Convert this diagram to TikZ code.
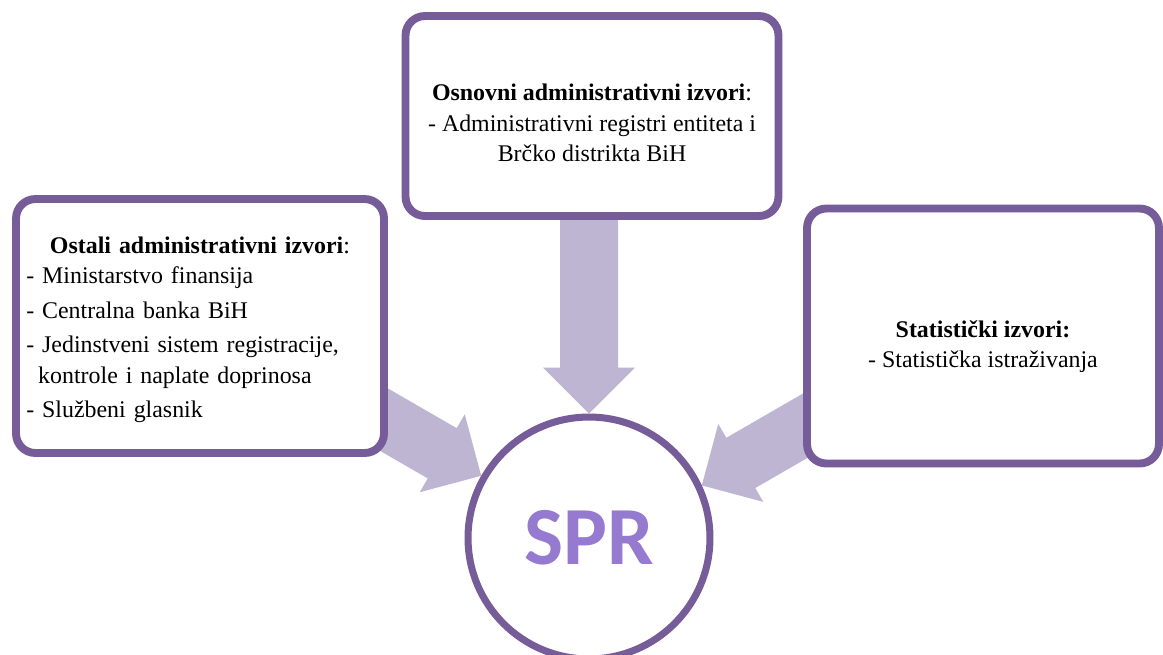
\documentclass[tikz,border=0pt]{standalone}
\usepackage{fontspec}
\setmainfont{Liberation Serif}
\newfontfamily\sprfont{Carlito}
\usetikzlibrary{shadows,backgrounds}

\definecolor{rim}{RGB}{118,92,152}
\definecolor{flow}{RGB}{190,181,210}
\definecolor{sprtext}{RGB}{150,122,208}

\begin{document}
\begin{tikzpicture}[x=0.02cm,y=-0.02cm,
    source/.style={draw=rim, line width=4.5pt, rounded corners=11pt, fill=white,
      drop shadow={opacity=0.18, shadow xshift=1pt, shadow yshift=-2pt}},
    sourcetext/.style={font=\fontsize{13.6}{17.5}\selectfont, inner sep=0pt},
    flowarrow/.style={fill=flow}]
  \useasboundingbox (0,0) rectangle (1163,654);

  % the three source boxes
  \node[source, minimum width=7.46cm, minimum height=4cm] (osnovni) at (592,116) {};
  \node[source, minimum width=7.36cm, minimum height=5.08cm] (ostali) at (200,326) {};
  \node[source, minimum width=7.04cm, minimum height=5.1cm] (statisticki) at (983,336) {};

  \node[sourcetext, align=center] (osnovni-txt) at ([yshift=-4]osnovni.center)
    {\textbf{Osnovni administrativni izvori}:\\
     - Administrativni registri entiteta i\\
     Brčko distrikta BiH};

  \node[sourcetext, text width=6.95cm] (ostali-txt) at ([yshift=-2]ostali.center)
    {\centering\textbf{Ostali administrativni izvori}:\par
     \raggedright
     - Ministarstvo finansija\\[2pt]
     - Centralna banka BiH\\[2pt]
     - Jedinstveni sistem registracije,\\
     \hspace*{0.5em}kontrole i naplate doprinosa\\[2pt]
     - Službeni glasnik\par};

  \node[sourcetext, align=center] (statisticki-txt) at ([yshift=-6]statisticki.center)
    {\textbf{Statistički izvori:}\\
     - Statistička istraživanja};

  \node[circle, draw=rim, line width=4pt, fill=white, minimum size=4.84cm,
    inner sep=0pt, font=\sprfont\bfseries\fontsize{47}{50}\selectfont, text=sprtext]
    (spr) at (589,538) {SPR};

  % block arrows into SPR
  \begin{scope}[on background layer]
    \begin{scope}[shift={(spr.north)}, rotate=-90]
      \fill[flowarrow] (0,0) -- (-46,46) -- (-46,29) -- (-230,29)
        -- (-230,-29) -- (-46,-29) -- (-46,-46) -- cycle;
    \end{scope}
    \begin{scope}[shift={(spr.150)}, rotate=-30]
      \fill[flowarrow] (0,0) -- (-45,45) -- (-45,29) -- (-150,29)
        -- (-150,-29) -- (-45,-29) -- (-45,-45) -- cycle;
    \end{scope}
    \begin{scope}[shift={(spr.25)}, rotate=210]
      \fill[flowarrow] (0,0) -- (-45,45) -- (-45,29) -- (-150,29)
        -- (-150,-29) -- (-45,-29) -- (-45,-45) -- cycle;
    \end{scope}
  \end{scope}
\end{tikzpicture}
\end{document}
